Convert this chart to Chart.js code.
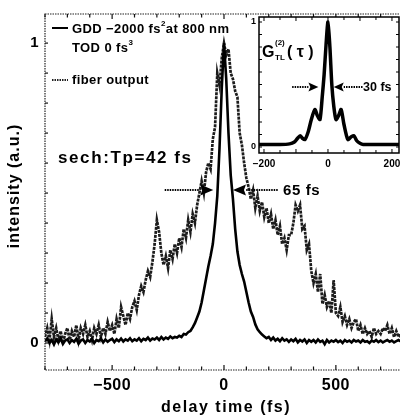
<!DOCTYPE html>
<html><head><meta charset="utf-8">
<script src="https://cdn.jsdelivr.net/npm/chart.js@4"></script>
<style>
html,body{margin:0;padding:0;background:#fff;overflow:hidden;width:400px;height:419px;}
#wrap{position:relative;width:406px;height:419px;}
#main{position:absolute;left:0;top:0;}
#inset{position:absolute;left:240px;top:8px;}
</style></head><body>
<div id="wrap">
<canvas id="main" width="406" height="419"></canvas>
<canvas id="inset" width="166" height="170"></canvas>
</div>
<script>
const FONT = '"Liberation Sans", Arial, Helvetica, sans-serif';

// ---- main chart data (delay grid: -800 .. 800 fs, step 10 fs) ----
const delayStart = -800;
const delayStep = 10;
const gddPulse = [
  0.005, 0.015, 0.000, 0.010, -0.005, 0.012, 0.002, 0.015, -0.003, 0.008,
  0.012, 0.000, 0.010, 0.004, 0.014, -0.002, 0.008, 0.012, 0.000, 0.010,
  0.005, 0.014, 0.000, 0.010, 0.006, 0.015, 0.002, 0.012, 0.004, 0.010,
  0.014, 0.003, 0.012, 0.006, 0.015, 0.005, 0.012, 0.008, 0.016, 0.006,
  0.012, 0.008, 0.016, 0.006, 0.014, 0.010, 0.018, 0.008, 0.015, 0.012,
  0.018, 0.010, 0.020, 0.012, 0.018, 0.014, 0.022, 0.016, 0.020, 0.018,
  0.024, 0.020, 0.030, 0.028, 0.036, 0.040, 0.052, 0.066, 0.085, 0.105,
  0.135, 0.175, 0.215, 0.255, 0.290, 0.330, 0.400, 0.490, 0.650, 0.850,
  1.000, 0.880, 0.700, 0.560, 0.480, 0.380, 0.305, 0.260, 0.230, 0.205,
  0.170, 0.135, 0.105, 0.087, 0.062, 0.046, 0.036, 0.028, 0.022, 0.016,
  0.020, 0.010, 0.018, 0.008, 0.014, 0.006, 0.016, 0.008, 0.012, 0.004,
  0.012, 0.006, 0.014, 0.002, 0.010, 0.005, 0.012, 0.000, 0.010, 0.004,
  0.010, 0.002, 0.012, 0.004, 0.008, -0.004, 0.010, 0.002, 0.008, 0.004,
  0.010, 0.003, 0.008, 0.000, 0.010, 0.004, 0.008, 0.002, 0.010, 0.005,
  0.008, 0.002, 0.010, 0.004, 0.006, 0.000, 0.008, 0.004, 0.010, 0.003,
  0.008, 0.002, 0.006, 0.010, 0.004, 0.008, 0.002, 0.006, 0.010, 0.005,
  0.006
];
const fiberOutput = [
  0.02, 0.05, 0.01, 0.08, 0.02, 0.05, 0.01, 0.04, 0.00, 0.03,
  0.05, 0.01, 0.04, 0.02, 0.06, 0.01, 0.05, 0.03, 0.06, 0.02,
  0.04, 0.01, 0.05, 0.03, 0.06, 0.02, 0.05, 0.03, 0.07, 0.04,
  0.06, 0.03, 0.08, 0.05, 0.12, 0.09, 0.06, 0.10, 0.08, 0.12,
  0.14, 0.11, 0.16, 0.19, 0.17, 0.21, 0.24, 0.22, 0.27, 0.33,
  0.41, 0.37, 0.30, 0.26, 0.29, 0.25, 0.31, 0.28, 0.33, 0.30,
  0.35, 0.32, 0.38, 0.35, 0.41, 0.37, 0.43, 0.40, 0.46, 0.50,
  0.54, 0.50, 0.57, 0.60, 0.58, 0.68, 0.72, 0.90, 0.86, 0.95,
  1.00, 0.96, 0.98, 0.90, 0.88, 0.84, 0.82, 0.70, 0.66, 0.60,
  0.55, 0.52, 0.48, 0.51, 0.45, 0.49, 0.44, 0.47, 0.42, 0.45,
  0.40, 0.43, 0.38, 0.41, 0.36, 0.39, 0.33, 0.35, 0.31, 0.36,
  0.36, 0.40, 0.46, 0.44, 0.46, 0.38, 0.39, 0.31, 0.33, 0.24,
  0.20, 0.23, 0.17, 0.23, 0.13, 0.16, 0.12, 0.14, 0.10, 0.21,
  0.10, 0.09, 0.12, 0.07, 0.09, 0.06, 0.08, 0.05, 0.07, 0.08,
  0.04, 0.06, 0.03, 0.05, 0.03, 0.04, 0.02, 0.05, 0.03, 0.04,
  0.03, 0.05, 0.04, 0.06, 0.03, 0.05, 0.02, 0.04, 0.02, 0.03,
  0.02
];
const delayTimes = gddPulse.map((_, i) => delayStart + i * delayStep);
const xTickValues = [-500, 0, 500];
const xTickLabels = ['\u2212500', '0', '500'];
const yTickValues = [0, 1];
const yTickLabels = ['0', '1'];

// ---- inset data ----
const insetDelay = [-216, -150, -120, -105, -95, -87, -80, -72, -62, -52, -41, -33, -25, -18, -12, -6, 0, 6, 12, 18, 25, 33, 41, 50, 62, 72, 81, 90, 100, 110, 140, 222];
const insetG2 =    [0.02, 0.02, 0.025, 0.04, 0.07, 0.09, 0.07, 0.06, 0.12, 0.22, 0.30, 0.25, 0.22, 0.40, 0.58, 0.82, 1.0, 0.80, 0.50, 0.33, 0.22, 0.25, 0.30, 0.18, 0.06, 0.08, 0.09, 0.05, 0.03, 0.02, 0.02, 0.02];
const insetXTicks = [-200, 0, 200];
const insetXLabels = ['\u2212200', '0', '200'];
const insetYTicks = [0, 1];
const insetYLabels = ['0', '1'];

function arrow(ctx, xTail, xTip, y, headLen, headH) {
  const dir = Math.sign(xTip - xTail);
  const base = xTip - dir * headLen;
  ctx.save();
  ctx.strokeStyle = '#000';
  ctx.lineWidth = 2;
  ctx.setLineDash([1.5, 1]);
  ctx.beginPath(); ctx.moveTo(xTail, y); ctx.lineTo(base, y); ctx.stroke();
  ctx.setLineDash([]);
  ctx.fillStyle = '#000';
  ctx.beginPath(); ctx.moveTo(xTip, y); ctx.lineTo(base, y - headH); ctx.lineTo(base + dir * 2, y); ctx.lineTo(base, y + headH); ctx.closePath(); ctx.fill();
  ctx.restore();
}
function rich(ctx, parts, x, y) {
  let cx = x;
  for (const p of parts) {
    ctx.font = 'bold ' + p.s + 'px ' + FONT;
    ctx.fillText(p.t, cx, y + (p.dy || 0));
    cx += ctx.measureText(p.t).width + (p.gap || 0);
  }
}

const mainDecor = {
  id: 'mainDecor',
  afterDraw(chart) {
    const { ctx, chartArea: { left, top, right, bottom }, scales: { x, y } } = chart;
    ctx.save();
    // frame
    ctx.strokeStyle = '#222'; ctx.lineWidth = 1.2; ctx.setLineDash([1.5, 1]);
    ctx.strokeRect(left, top, right - left, bottom - top);
    ctx.setLineDash([]);
    ctx.lineWidth = 1.2; ctx.strokeStyle = '#111';
    for (let v = -800; v <= 800; v += 100) {
      const px = x.getPixelForValue(v);
      const len = (v % 500 === 0) ? 5 : 3.5;
      ctx.beginPath(); ctx.moveTo(px, bottom); ctx.lineTo(px, bottom - len); ctx.stroke();
      ctx.beginPath(); ctx.moveTo(px, top); ctx.lineTo(px, top + len); ctx.stroke();
    }
    for (let k = 0; k <= 10; k++) {
      const py = y.getPixelForValue(k / 10);
      ctx.beginPath(); ctx.moveTo(left, py); ctx.lineTo(left + 3, py); ctx.stroke();
    }
    // tick labels
    ctx.fillStyle = '#000';
    ctx.font = 'bold 16px ' + FONT;
    ctx.letterSpacing = '0.5px';
    ctx.textAlign = 'center'; ctx.textBaseline = 'middle';
    xTickValues.forEach((v, i) => ctx.fillText(xTickLabels[i], x.getPixelForValue(v), 386));
    ctx.textAlign = 'right';
    ctx.font = 'bold 15px ' + FONT;
    yTickValues.forEach((v, i) => ctx.fillText(yTickLabels[i], 39, y.getPixelForValue(v)));
    // axis titles
    ctx.textAlign = 'center';
    ctx.font = 'bold 16px ' + FONT;
    ctx.letterSpacing = '1.5px';
    ctx.fillText('delay time (fs)', 226, 408);
    ctx.letterSpacing = '1px';
    ctx.save();
    ctx.translate(15, 186); ctx.rotate(-Math.PI / 2);
    ctx.fillText('intensity (a.u.)', 0, 0);
    ctx.restore();
    ctx.letterSpacing = '0px';
    // legend
    ctx.textAlign = 'left'; ctx.textBaseline = 'alphabetic';
    ctx.strokeStyle = '#000'; ctx.lineWidth = 2;
    ctx.beginPath(); ctx.moveTo(52, 28); ctx.lineTo(68, 28); ctx.stroke();
    ctx.strokeStyle = '#222'; ctx.setLineDash([1.5, 1]);
    ctx.beginPath(); ctx.moveTo(52, 80); ctx.lineTo(68, 80); ctx.stroke();
    ctx.setLineDash([]);
    ctx.letterSpacing = '0.4px';
    rich(ctx, [{ t: 'GDD \u22122000 fs', s: 13 }, { t: '2', s: 8, dy: -7 }, { t: 'at 800 nm', s: 13 }], 72, 33);
    rich(ctx, [{ t: 'TOD 0 fs', s: 13 }, { t: '3', s: 8, dy: -7 }], 72, 52);
    rich(ctx, [{ t: 'fiber output', s: 13 }], 72, 84);
    // annotations
    ctx.letterSpacing = '1.6px';
    ctx.font = 'bold 17px ' + FONT;
    ctx.fillText('sech:Tp=42 fs', 58, 163);
    ctx.letterSpacing = '0.6px';
    const ya = y.getPixelForValue(0.51);
    arrow(ctx, x.getPixelForValue(-265), x.getPixelForValue(-48), ya, 13, 5.5);
    arrow(ctx, x.getPixelForValue(240), x.getPixelForValue(40), ya, 13, 5.5);
    ctx.font = 'bold 15px ' + FONT;
    ctx.textBaseline = 'middle';
    ctx.fillText('65 fs', 283, ya + 1);
    ctx.restore();
  }
};

new Chart(document.getElementById('main'), {
  type: 'line',
  data: {
    datasets: [
      { label: 'GDD', data: delayTimes.map((t, i) => ({ x: t, y: gddPulse[i] })), borderColor: '#000', borderWidth: 2.6, pointRadius: 0, tension: 0 },
      { label: 'fiber output', data: delayTimes.map((t, i) => ({ x: t, y: fiberOutput[i] })), borderColor: '#1c1c1c', borderWidth: 2.7, borderDash: [3, 1], pointRadius: 0, tension: 0 }
    ]
  },
  options: {
    responsive: false, animation: false, devicePixelRatio: 1,
    layout: { padding: { left: 45, top: 14, right: 3, bottom: 49 } },
    scales: {
      x: { type: 'linear', min: -800, max: 800, display: false },
      y: { type: 'linear', min: -0.09, max: 1.097, display: false }
    },
    plugins: { legend: { display: false }, tooltip: { enabled: false } }
  },
  plugins: [mainDecor]
});

const insetDecor = {
  id: 'insetDecor',
  beforeDatasetsDraw(chart) {
    const { ctx, chartArea: { left, top, right, bottom } } = chart;
    ctx.save(); ctx.fillStyle = '#fff'; ctx.fillRect(left, top, right - left, bottom - top); ctx.restore();
  },
  afterDraw(chart) {
    const { ctx, chartArea: { left, top, right, bottom }, scales: { x, y } } = chart;
    ctx.save();
    ctx.strokeStyle = '#000'; ctx.lineWidth = 1.5;
    ctx.strokeRect(left, top, right - left, bottom - top);
    ctx.lineWidth = 1;
    for (let v = -200; v <= 200; v += 50) {
      const px = x.getPixelForValue(v);
      const len = (v % 100 === 0) ? 4 : 3;
      ctx.beginPath(); ctx.moveTo(px, bottom); ctx.lineTo(px, bottom - len); ctx.stroke();
      ctx.beginPath(); ctx.moveTo(px, top); ctx.lineTo(px, top + len); ctx.stroke();
    }
    for (let k = 0; k <= 10; k++) {
      const py = y.getPixelForValue(k / 10);
      ctx.beginPath(); ctx.moveTo(left, py); ctx.lineTo(left + 3, py); ctx.stroke();
      ctx.beginPath(); ctx.moveTo(right, py); ctx.lineTo(right - 3, py); ctx.stroke();
    }
    ctx.fillStyle = '#000';
    ctx.font = 'bold 10px ' + FONT;
    ctx.textAlign = 'center'; ctx.textBaseline = 'middle';
    insetXTicks.forEach((v, i) => ctx.fillText(insetXLabels[i], x.getPixelForValue(v), 156));
    ctx.textAlign = 'right'; ctx.font = 'bold 9px ' + FONT;
    insetYTicks.forEach((v, i) => ctx.fillText(insetYLabels[i], left - 3, y.getPixelForValue(v)));
    // G label
    ctx.textAlign = 'left'; ctx.textBaseline = 'alphabetic';
    ctx.font = 'bold 16px ' + FONT;
    ctx.fillText('G', 22, 49);
    ctx.font = 'bold 8px ' + FONT;
    ctx.fillText('(2)', 35, 37);
    ctx.fillText('TL', 35, 52);
    ctx.font = 'bold 16px ' + FONT;
    ctx.fillText('( \u03C4 )', 47, 49);
    const ya = y.getPixelForValue(0.48);
    arrow(ctx, x.getPixelForValue(-112), x.getPixelForValue(-30), ya, 10, 4.5);
    arrow(ctx, x.getPixelForValue(108), x.getPixelForValue(18), ya, 10, 4.5);
    ctx.font = 'bold 12.5px ' + FONT;
    ctx.textBaseline = 'middle';
    ctx.fillText('30 fs', 123, ya + 1);
    ctx.restore();
  }
};

new Chart(document.getElementById('inset'), {
  type: 'line',
  data: {
    datasets: [
      { label: 'G2', data: insetDelay.map((t, i) => ({ x: t, y: insetG2[i] })), borderColor: '#000', borderWidth: 3.5, pointRadius: 0, tension: 0.25, borderJoinStyle: 'round' }
    ]
  },
  options: {
    responsive: false, animation: false, devicePixelRatio: 1,
    layout: { padding: { left: 19, top: 9, right: 7, bottom: 25 } },
    scales: {
      x: { type: 'linear', min: -215.6, max: 222, display: false },
      y: { type: 'linear', min: -0.048, max: 1.04, display: false }
    },
    plugins: { legend: { display: false }, tooltip: { enabled: false } }
  },
  plugins: [insetDecor]
});
</script>
</body></html>
